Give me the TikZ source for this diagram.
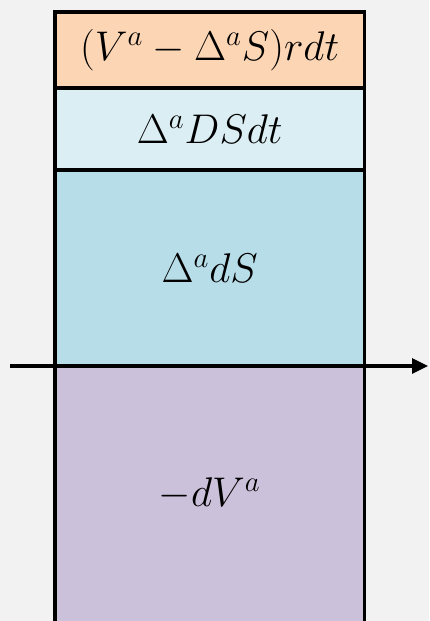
\documentclass[tikz,border=0pt]{standalone}
\usepackage{amsmath,amssymb}
\usetikzlibrary{arrows.meta}
\definecolor{sfondo}{HTML}{F2F2F2}
\definecolor{pesca}{HTML}{FCD5B4}
\definecolor{celeste}{HTML}{DBEEF4}
\definecolor{azzurro}{HTML}{B7DDE8}
\definecolor{lilla}{HTML}{CCC1DA}

\begin{document}
\begin{tikzpicture}[x=0.5pt,y=-0.5pt,>=Triangle,font=\fontsize{20}{24}\selectfont,
  blocco/.style={draw=black,line width=1.7pt},
  voce/.style={inner sep=0pt,anchor=center}]

% --- Sfondo e ritaglio
\useasboundingbox (0,0) rectangle (429,621);
\fill[sfondo] (0,0) rectangle (429,621);
\clip (0,0) rectangle (429,621);

% --- Blocchi impilati
\draw[blocco,fill=pesca]   (55,12)  rectangle (364.5,88);
\draw[blocco,fill=celeste] (55,88)  rectangle (364.5,170);
\draw[blocco,fill=azzurro] (55,170) rectangle (364.5,366);
\draw[blocco,fill=lilla]   (55,366) rectangle (364.5,640);

% --- Etichette
\node[voce] (interessi) at (209.75,50)  {$(V^a-\Delta^a S)rdt$};
\node[voce] (dividendi) at (209.75,129) {$\Delta^a DSdt$};
\node[voce] (sottost)   at (209.75,268) {$\Delta^a dS$};
\node[voce] (opzione)   at (209.75,494) {$-dV^a$};

% --- Asse orizzontale
\coordinate (asseA) at (10,366);
\coordinate (asseB) at (428,366);
\draw[->,line width=1.6pt,arrows={-Triangle[length=8pt,width=7.5pt]}] (asseA) -- (asseB);

\end{tikzpicture}
\end{document}
